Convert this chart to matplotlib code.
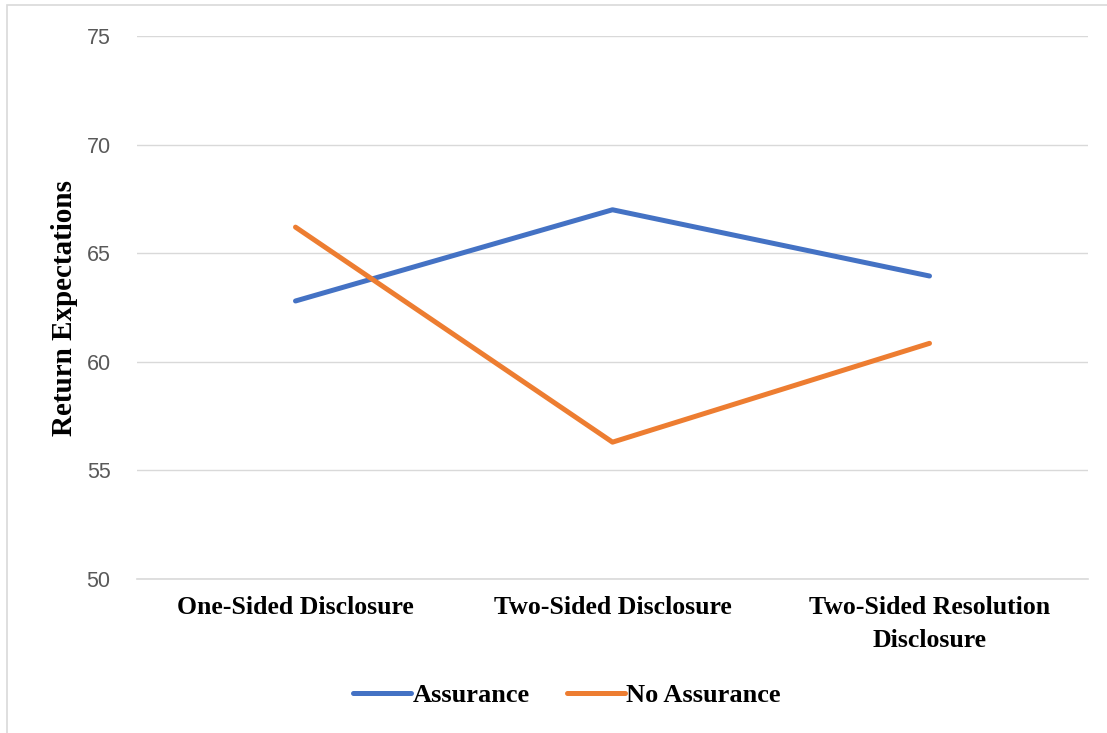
import matplotlib.pyplot as plt
from matplotlib.patches import Rectangle

# condiciones y medias de expectativas de retorno
categories = ['One-Sided Disclosure', 'Two-Sided Disclosure', 'Two-Sided Resolution\nDisclosure']
assurance = [62.8, 67.0, 63.95]
no_assurance = [66.2, 56.3, 60.85]
yticks = [50, 55, 60, 65, 70, 75]

serif = 'Liberation Serif'
sans = 'Liberation Sans'

fig = plt.figure(figsize=(11.07, 7.33), dpi=100)
ax = fig.add_axes([137/1107, 1 - 579/733, (1088 - 137)/1107, (579 - 36)/733])

x = range(len(categories))
ax.plot(x, assurance, color='#4472C4', lw=3.6, solid_capstyle='round', solid_joinstyle='round', label='Assurance')
ax.plot(x, no_assurance, color='#ED7D31', lw=3.6, solid_capstyle='round', solid_joinstyle='round', label='No Assurance')

ax.set_xlim(-0.5, len(categories) - 0.5)
ax.set_ylim(50, 75)
ax.set_yticks(yticks)
ax.set_yticklabels([str(t) for t in yticks], fontfamily=sans, fontsize=15.5, color='#595959')
ax.set_xticks(list(x))
ax.set_xticklabels(categories, fontfamily=serif, fontweight='bold', fontsize=18.5, linespacing=1.6)
ax.tick_params(axis='y', length=0, pad=19)
ax.tick_params(axis='x', length=0, pad=12)

ax.grid(axis='y', color='#D9D9D9', lw=1)
ax.set_axisbelow(True)
for s in ax.spines.values():
    s.set_visible(False)
ax.spines['bottom'].set_visible(True)
ax.spines['bottom'].set_color('#D9D9D9')
ax.spines['bottom'].set_linewidth(1.2)

ax.set_ylabel('Return Expectations', fontfamily=serif, fontweight='bold', fontsize=21, labelpad=6)

fig.legend(loc='center', bbox_to_anchor=(567/1107, 1 - 695/733), ncol=2, frameon=False,
           prop={'family': serif, 'weight': 'bold', 'size': 19},
           handlelength=2.2, handletextpad=0.05, columnspacing=1.4)

# marco del grafico
fig.patches.append(Rectangle((7/1107, -0.1), 1.2, 1 - 5/733 + 0.1, transform=fig.transFigure,
                             fill=False, edgecolor='#D9D9D9', lw=1.2))

fig.savefig('out.png', dpi=100)
